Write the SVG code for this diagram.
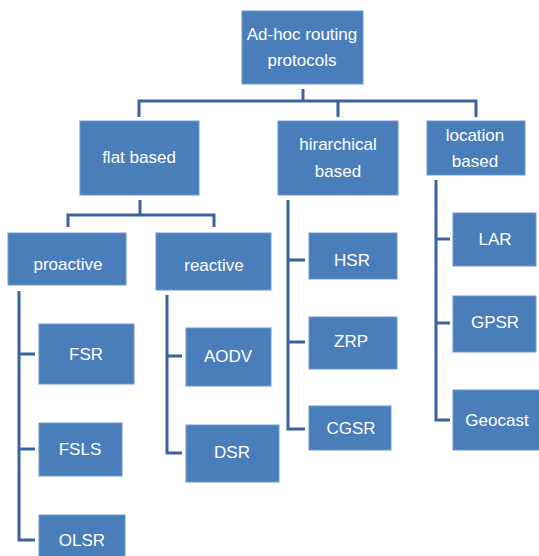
<svg xmlns="http://www.w3.org/2000/svg" width="539" height="556" viewBox="0 0 539 556">
<style>
.n rect{fill:#4A7EBB;stroke:#6C98CE;stroke-width:1}
.n text{fill:#FFFFFF;font-family:"Liberation Sans",Arial,sans-serif;font-size:17px;text-anchor:middle}
#connectors path{fill:none;stroke:#3A63A0;stroke-width:3;stroke-linejoin:miter}
</style>
<rect width="539" height="556" fill="#FFFFFF"/>
<g id="connectors">
<path d="M303,89 V101 M139,117 V101 H476 V117 M338,101 V117"/>
<path d="M140,200 V215 M68,227 V215 H214 V227"/>
<path d="M19,291 V540 H35 M19,354 H35 M19,449 H35"/>
<path d="M167,295 V453 H182 M167,356 H182"/>
<path d="M288,200 V429 H305 M288,260 H305 M288,342 H305"/>
<path d="M436,180 V420 H450 M436,239 H450 M436,323 H450"/>
</g>
<g id="root" class="n"><rect x="242" y="11" width="121" height="73"/><text x="302" y="40">Ad-hoc routing</text><text x="302" y="66">protocols</text></g>
<g id="flat" class="n"><rect x="80" y="121" width="119" height="74"/><text x="139" y="163">flat based</text></g>
<g id="hier" class="n"><rect x="278" y="121" width="120" height="74"/><text x="338" y="150">hirarchical</text><text x="338" y="177">based</text></g>
<g id="loc" class="n"><rect x="427" y="121" width="98" height="54"/><text x="475" y="141">location</text><text x="475" y="167">based</text></g>
<g id="proactive" class="n"><rect x="8" y="233" width="118" height="52"/><text x="68" y="270">proactive</text></g>
<g id="reactive" class="n"><rect x="156" y="233" width="115" height="57"/><text x="214" y="271">reactive</text></g>
<g id="hsr" class="n"><rect x="309" y="233" width="88" height="46"/><text x="352" y="266">HSR</text></g>
<g id="lar" class="n"><rect x="453" y="213" width="83" height="53"/><text x="495" y="245">LAR</text></g>
<g id="fsr" class="n"><rect x="39" y="324" width="95" height="60"/><text x="86" y="360">FSR</text></g>
<g id="fsls" class="n"><rect x="39" y="423" width="83" height="53"/><text x="80" y="455">FSLS</text></g>
<g id="olsr" class="n"><rect x="39" y="515" width="86" height="45"/><text x="82" y="546">OLSR</text></g>
<g id="aodv" class="n"><rect x="186" y="328" width="85" height="58"/><text x="228" y="362">AODV</text></g>
<g id="dsr" class="n"><rect x="186" y="425" width="93" height="57"/><text x="232" y="458">DSR</text></g>
<g id="zrp" class="n"><rect x="309" y="317" width="88" height="52"/><text x="351" y="347">ZRP</text></g>
<g id="cgsr" class="n"><rect x="309" y="406" width="82" height="44"/><text x="351" y="434">CGSR</text></g>
<g id="gpsr" class="n"><rect x="453" y="296" width="83" height="56"/><text x="495" y="328">GPSR</text></g>
<g id="geocast" class="n"><rect x="453" y="390" width="90" height="60"/><text x="497" y="426">Geocast</text></g>
</svg>
